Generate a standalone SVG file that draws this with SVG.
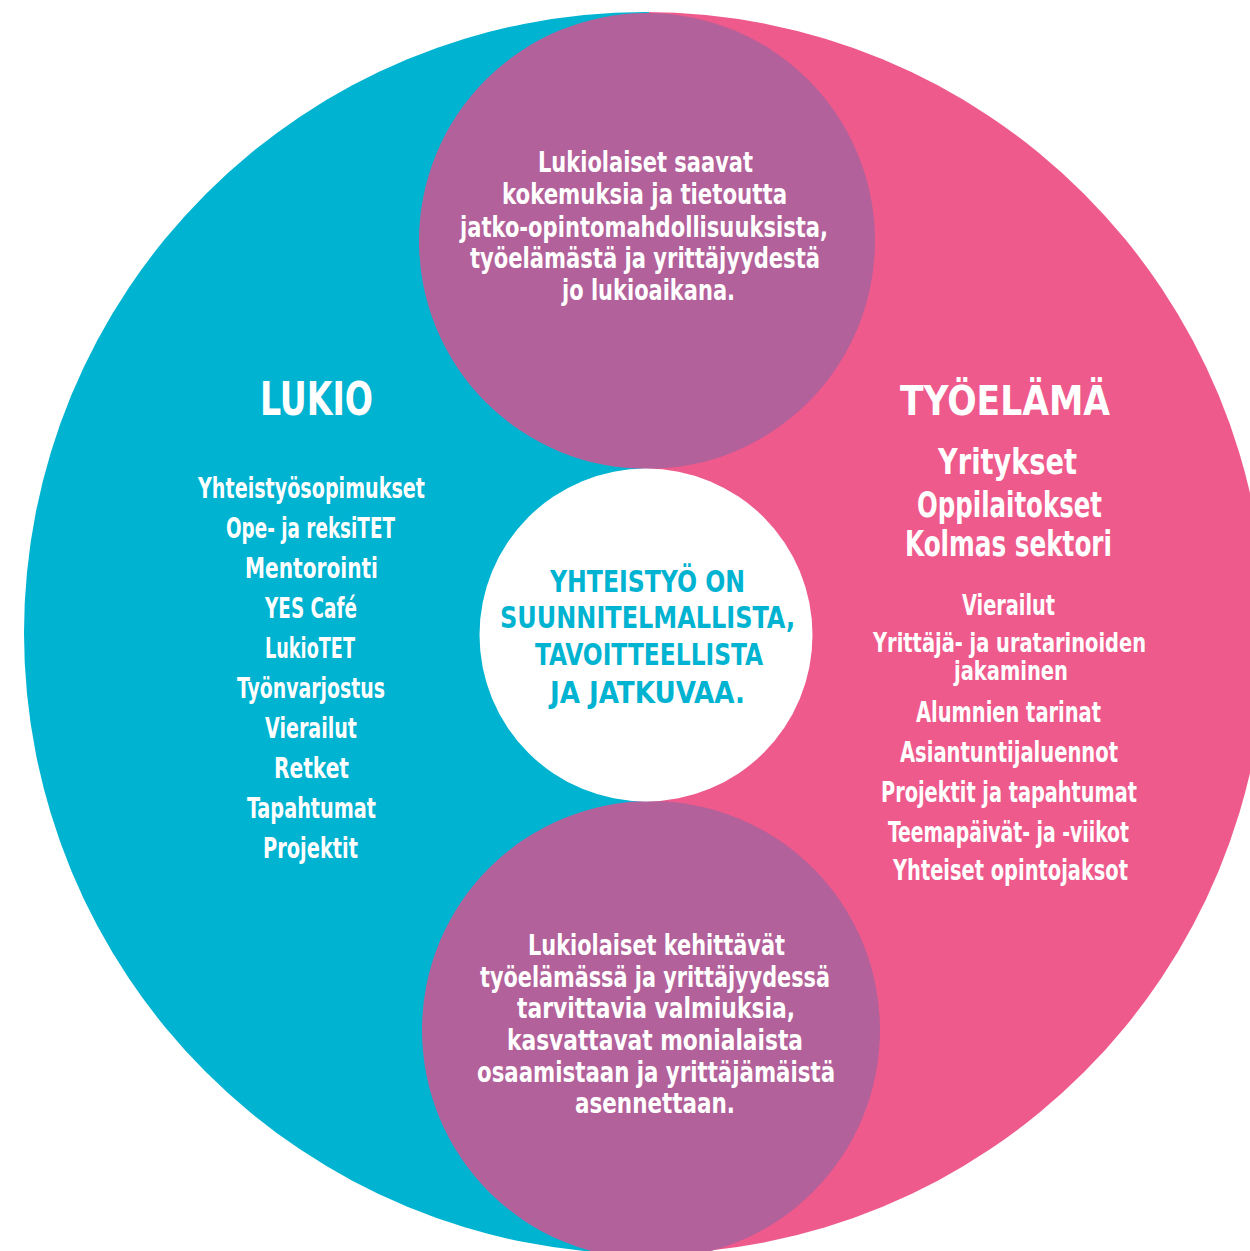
<svg xmlns="http://www.w3.org/2000/svg" width="1250" height="1251" viewBox="0 0 1250 1251">
  <defs>
    <clipPath id="bigClip">
      <circle cx="645" cy="633" r="621"/>
    </clipPath>
    <style>
      text { font-family: "Liberation Sans Narrow", "DejaVu Sans Condensed", "Liberation Sans", sans-serif; font-weight: bold; text-anchor: middle; }
      .w { fill: #ffffff; }
      .c { fill: #00B3D1; }
      .t46 { font-size: 46px; }
      .t40 { font-size: 40px; }
      .t36 { font-size: 36px; }
      .t30 { font-size: 30px; }
      .t29 { font-size: 29px; }
      .t28 { font-size: 28px; }
      .t26 { font-size: 26px; }
    </style>
  </defs>
  <rect x="0" y="0" width="1250" height="1251" fill="#ffffff"/>

  <g id="background" clip-path="url(#bigClip)">
    <rect x="0" y="0" width="649" height="1251" fill="#00B3D1"/>
    <rect x="649" y="0" width="601" height="1251" fill="#EE5A8C"/>
  </g>

  <g id="connectors"/>

  <g id="top-circle">
    <circle cx="647" cy="241" r="228" fill="#B3619A"/>
    <text class="w t29" x="645.5" y="172" textLength="215" lengthAdjust="spacingAndGlyphs">Lukiolaiset saavat</text>
    <text class="w t29" x="644.5" y="204" textLength="285" lengthAdjust="spacingAndGlyphs">kokemuksia ja tietoutta</text>
    <text class="w t29" x="644" y="237" textLength="368" lengthAdjust="spacingAndGlyphs">jatko-opintomahdollisuuksista,</text>
    <text class="w t29" x="645" y="268" textLength="350" lengthAdjust="spacingAndGlyphs">työelämästä ja yrittäjyydestä</text>
    <text class="w t29" x="648.5" y="300" textLength="173" lengthAdjust="spacingAndGlyphs">jo lukioaikana.</text>
  </g>

  <g id="bottom-circle">
    <circle cx="651" cy="1030" r="229" fill="#B3619A"/>
    <text class="w t29" x="656.5" y="955" textLength="257" lengthAdjust="spacingAndGlyphs">Lukiolaiset kehittävät</text>
    <text class="w t29" x="655" y="987" textLength="350" lengthAdjust="spacingAndGlyphs">työelämässä ja yrittäjyydessä</text>
    <text class="w t29" x="656" y="1018" textLength="278" lengthAdjust="spacingAndGlyphs">tarvittavia valmiuksia,</text>
    <text class="w t29" x="655" y="1050" textLength="296" lengthAdjust="spacingAndGlyphs">kasvattavat monialaista</text>
    <text class="w t29" x="656" y="1082" textLength="358" lengthAdjust="spacingAndGlyphs">osaamistaan ja yrittäjämäistä</text>
    <text class="w t29" x="655" y="1113" textLength="160" lengthAdjust="spacingAndGlyphs">asennettaan.</text>
  </g>

  <g id="center">
    <circle cx="646" cy="635" r="166.5" fill="#ffffff"/>
    <text class="c t30" x="647.5" y="592" textLength="195" lengthAdjust="spacingAndGlyphs">YHTEISTYÖ ON</text>
    <text class="c t30" x="647.5" y="628" textLength="295" lengthAdjust="spacingAndGlyphs">SUUNNITELMALLISTA,</text>
    <text class="c t30" x="649" y="665" textLength="228" lengthAdjust="spacingAndGlyphs">TAVOITTEELLISTA</text>
    <text class="c t30" x="647.5" y="703" textLength="195" lengthAdjust="spacingAndGlyphs">JA JATKUVAA.</text>
  </g>

  <g id="lukio">
    <text class="w t46" x="316.5" y="415" textLength="113" lengthAdjust="spacingAndGlyphs">LUKIO</text>
    <text class="w t28" x="311.5" y="498" textLength="227" lengthAdjust="spacingAndGlyphs">Yhteistyösopimukset</text>
    <text class="w t28" x="310.5" y="538" textLength="169" lengthAdjust="spacingAndGlyphs">Ope- ja reksiTET</text>
    <text class="w t28" x="311.5" y="578" textLength="133" lengthAdjust="spacingAndGlyphs">Mentorointi</text>
    <text class="w t28" x="311" y="618" textLength="92" lengthAdjust="spacingAndGlyphs">YES Café</text>
    <text class="w t28" x="310" y="658" textLength="90" lengthAdjust="spacingAndGlyphs">LukioTET</text>
    <text class="w t28" x="311" y="698" textLength="148" lengthAdjust="spacingAndGlyphs">Työnvarjostus</text>
    <text class="w t28" x="311" y="738" textLength="92" lengthAdjust="spacingAndGlyphs">Vierailut</text>
    <text class="w t28" x="311.5" y="778" textLength="75" lengthAdjust="spacingAndGlyphs">Retket</text>
    <text class="w t28" x="311.5" y="818" textLength="129" lengthAdjust="spacingAndGlyphs">Tapahtumat</text>
    <text class="w t28" x="310.5" y="858" textLength="95" lengthAdjust="spacingAndGlyphs">Projektit</text>
  </g>

  <g id="tyoelama">
    <text class="w t40" x="1005" y="415" textLength="210" lengthAdjust="spacingAndGlyphs">TYÖELÄMÄ</text>
    <text class="w t36" x="1007.5" y="474" textLength="139" lengthAdjust="spacingAndGlyphs">Yritykset</text>
    <text class="w t36" x="1009.5" y="517" textLength="185" lengthAdjust="spacingAndGlyphs">Oppilaitokset</text>
    <text class="w t36" x="1008.5" y="556" textLength="207" lengthAdjust="spacingAndGlyphs">Kolmas sektori</text>
    <text class="w t28" x="1008.5" y="615" textLength="93" lengthAdjust="spacingAndGlyphs">Vierailut</text>
    <text class="w t26" x="1009.5" y="652" textLength="273" lengthAdjust="spacingAndGlyphs">Yrittäjä- ja uratarinoiden</text>
    <text class="w t26" x="1011" y="680" textLength="114" lengthAdjust="spacingAndGlyphs">jakaminen</text>
    <text class="w t28" x="1008.5" y="722" textLength="185" lengthAdjust="spacingAndGlyphs">Alumnien tarinat</text>
    <text class="w t28" x="1009" y="762" textLength="218" lengthAdjust="spacingAndGlyphs">Asiantuntijaluennot</text>
    <text class="w t28" x="1009" y="802" textLength="256" lengthAdjust="spacingAndGlyphs">Projektit ja tapahtumat</text>
    <text class="w t28" x="1008.5" y="842" textLength="241" lengthAdjust="spacingAndGlyphs">Teemapäivät- ja -viikot</text>
    <text class="w t28" x="1010.5" y="880" textLength="235" lengthAdjust="spacingAndGlyphs">Yhteiset opintojaksot</text>
  </g>
</svg>
